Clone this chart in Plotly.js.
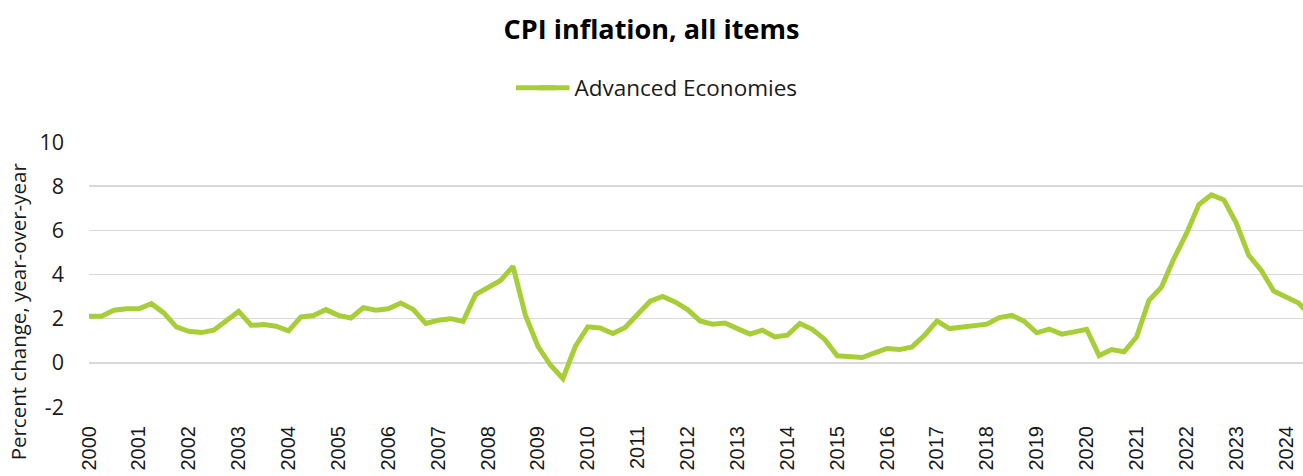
<!DOCTYPE html>
<html>
<head>
<meta charset="utf-8">
<script src="https://cdn.plot.ly/plotly-3.0.1.min.js"></script>
<style>html,body{margin:0;padding:0;background:#fff;}#chart{width:1303px;height:476px;}</style>
</head>
<body>
<div id="chart"></div>
<script>
// Quarterly CPI inflation, Advanced Economies, starting 2000 Q1
const startYear = 2000;
const seriesName = "Advanced Economies";
const cpiValues = [
  2.11, 2.11, 2.38, 2.45,
  2.45, 2.68, 2.26, 1.63,
  1.43, 1.37, 1.48, 1.93,
  2.33, 1.70, 1.73, 1.66,
  1.45, 2.08, 2.14, 2.41,
  2.15, 2.03, 2.50, 2.38,
  2.45, 2.71, 2.42, 1.78,
  1.93, 2.00, 1.88, 3.09,
  3.39, 3.73, 4.37, 2.15,
  0.75, -0.10, -0.71, 0.75,
  1.63, 1.58, 1.33, 1.60,
  2.20, 2.79, 3.01, 2.76,
  2.41, 1.90, 1.75, 1.80,
  1.55, 1.30, 1.48, 1.17,
  1.25, 1.78, 1.52, 1.06,
  0.32, 0.29, 0.24, 0.45,
  0.65, 0.60, 0.72, 1.25,
  1.90, 1.55, 1.60, 1.66,
  1.75, 2.05, 2.15, 1.88,
  1.36, 1.53, 1.30, 1.40,
  1.52, 0.33, 0.60, 0.50,
  1.17, 2.83, 3.43, 4.72,
  5.85, 7.17, 7.61, 7.38,
  6.33, 4.87, 4.19, 3.25,
  2.95, 2.71, 2.10
];
const tickYears = [2000,2001,2002,2003,2004,2005,2006,2007,2008,2009,2010,2011,2012,
  2013,2014,2015,2016,2017,2018,2019,2020,2021,2022,2023,2024];
const tickLabels = tickYears.map(String);
const yTicks = [-2, 0, 2, 4, 6, 8, 10];
const chartTitle = 'CPI inflation, all items';
const yTitle = 'Percent change, year-over-year';

const xQuarter = cpiValues.map((v, i) => startYear + i / 4);
const lineColor = '#A7CE38';

const trace = {
  x: xQuarter,
  y: cpiValues,
  type: 'scatter',
  mode: 'lines',
  name: seriesName,
  line: {color: lineColor, width: 5},
  showlegend: true
};

const textFont = 'Open Sans, Noto Sans, sans-serif';

const layout = {
  width: 1303,
  height: 476,
  paper_bgcolor: '#ffffff',
  plot_bgcolor: '#ffffff',
  margin: {l: 89, r: 0, t: 141.5, b: 69.3, pad: 0},
  title: {
    text: '<b>' + chartTitle + '</b>',
    font: {family: textFont, size: 27, color: '#000000'},
    x: 0.5, xref: 'container', xanchor: 'center',
    y: 1 - 30/476, yref: 'container', yanchor: 'middle'
  },
  showlegend: true,
  legend: {
    orientation: 'h',
    x: 0.5 + 17/1303, xref: 'container', xanchor: 'center',
    y: 1 - 88/476, yref: 'container', yanchor: 'middle',
    font: {family: textFont, size: 22.5, color: '#1a1a1a'},
    bgcolor: 'rgba(0,0,0,0)'
  },
  // extends the legend key line to the longer length used in the original
  shapes: [{
    type: 'line', xref: 'paper', yref: 'paper',
    x0: (516 - 89) / 1214, x1: (555 - 89) / 1214,
    y0: (406.7 - 87.2) / 265.2, y1: (406.7 - 87.2) / 265.2,
    line: {color: lineColor, width: 5}
  }],
  xaxis: {
    range: [startYear, startYear + 97.35 / 4],
    tickmode: 'array',
    tickvals: tickYears,
    ticktext: tickLabels,
    tickangle: -90,
    tickfont: {family: 'Liberation Sans, Arial, sans-serif', size: 20, color: '#1a1a1a'},
    showgrid: false,
    zeroline: false,
    showline: false,
    ticks: '',
    ticklabelstandoff: 14,
    automargin: false,
    fixedrange: true
  },
  yaxis: {
    range: [-2, 10],
    tickmode: 'array',
    tickvals: yTicks,
    ticktext: yTicks.map(String),
    tickfont: {family: textFont, size: 21.5, color: '#1a1a1a'},
    showgrid: true,
    gridcolor: '#D9D9D9',
    gridwidth: 1.5,
    zeroline: false,
    showline: false,
    ticks: '',
    ticklabelstandoff: 24,
    automargin: false,
    fixedrange: true
  },
  annotations: [{
    text: yTitle,
    textangle: -90,
    xref: 'paper', yref: 'paper',
    x: -(89 - 18) / 1214, xanchor: 'center',
    y: (406.7 - 311) / 265.2, yanchor: 'middle',
    showarrow: false,
    font: {family: textFont, size: 20.5, color: '#1a1a1a'}
  }]
};

Plotly.newPlot('chart', [trace], layout, {displayModeBar: false, staticPlot: true});
</script>
</body>
</html>
